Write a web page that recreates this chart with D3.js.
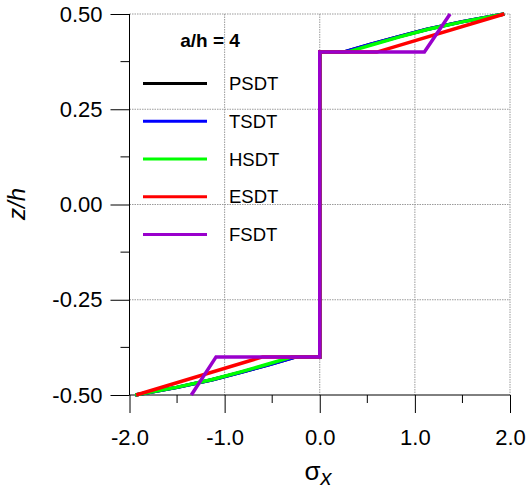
<!DOCTYPE html>
<html>
<head>
<meta charset="utf-8">
<script src="https://cdn.jsdelivr.net/npm/d3@7"></script>
<style>
  html, body { margin: 0; padding: 0; background: #fff; }
  svg { display: block; font-family: "Liberation Sans", Arial, sans-serif; }
</style>
</head>
<body>
<svg id="chart" width="528" height="495"></svg>
<script>
// Through-thickness normal stress sigma_x for a/h = 4
const zCurve = [-0.5, -0.48, -0.46, -0.44, -0.42, -0.4, -0.4, 0.4, 0.4, 0.42, 0.44, 0.46, 0.48, 0.5];
const psdtSigma = [-1.94, -1.50, -1.13, -0.82, -0.53, -0.25, 0, 0, 0.25, 0.53, 0.82, 1.13, 1.50, 1.94];
const tsdtSigma = [-1.94, -1.50, -1.13, -0.82, -0.53, -0.25, 0, 0, 0.25, 0.53, 0.82, 1.13, 1.50, 1.94];
const hsdtSigma = [-1.94, -1.51, -1.14, -0.84, -0.56, -0.29, 0, 0, 0.29, 0.56, 0.84, 1.14, 1.51, 1.94];
const zLinear = [-0.5, -0.4, -0.4, 0.4, 0.4, 0.5];
const esdtSigma = [-1.93, -0.60, 0, 0, 0.60, 1.94];
const fsdtSigma = [-1.35, -1.09, 0, 0, 1.10, 1.37];

const seriesNames = ["PSDT", "TSDT", "HSDT", "ESDT", "FSDT"];
const seriesColors = ["#000000", "#0000ff", "#00ff00", "#ff0000", "#9900cc"];

const xTicks = [-2, -1, 0, 1, 2];
const xMinorTicks = [-1.5, -0.5, 0.5, 1.5];
const yTicks = [-0.5, -0.25, 0, 0.25, 0.5];
const yMinorTicks = [-0.375, -0.125, 0.125, 0.375];

const series = [
  { name: seriesNames[0], sigma: psdtSigma, z: zCurve },
  { name: seriesNames[1], sigma: tsdtSigma, z: zCurve },
  { name: seriesNames[2], sigma: hsdtSigma, z: zCurve },
  { name: seriesNames[3], sigma: esdtSigma, z: zLinear },
  { name: seriesNames[4], sigma: fsdtSigma, z: zLinear }
];

const svg = d3.select("#chart");
const x = d3.scaleLinear().domain([-2, 2]).range([129.5, 510]);
const y = d3.scaleLinear().domain([-0.5, 0.5]).range([395, 14]);

// plain hyphen for negative numbers
const fmt = p => d => d3.format(p)(d).replace("\u2212", "-");

// dotted grid
const grid = svg.append("g").attr("stroke", "#9a9a9a").attr("stroke-width", 1)
  .attr("stroke-dasharray", "1.5,1");
grid.selectAll("line.gx").data(xTicks.filter(d => d > -2)).join("line")
  .attr("x1", d => x(d)).attr("x2", d => x(d))
  .attr("y1", y(0.5)).attr("y2", y(-0.5));
grid.selectAll("line.gy").data(yTicks.filter(d => d > -0.5)).join("line")
  .attr("x1", x(-2)).attr("x2", x(2))
  .attr("y1", d => y(d)).attr("y2", d => y(d));

// axes
const xAxis = d3.axisBottom(x).tickValues(xTicks).tickSize(18).tickPadding(16)
  .tickFormat(fmt(".1f"));
const gx = svg.append("g").attr("transform", `translate(0,${y(-0.5)})`).call(xAxis);
gx.append("g").selectAll("line").data(xMinorTicks).join("line")
  .attr("x1", d => x(d)).attr("x2", d => x(d)).attr("y1", 0).attr("y2", 8)
  .attr("stroke", "#000");

const yAxis = d3.axisLeft(y).tickValues(yTicks).tickSize(19).tickPadding(8)
  .tickFormat(fmt(".2f"));
const gy = svg.append("g").attr("transform", `translate(${x(-2)},0)`).call(yAxis);
gy.append("g").selectAll("line").data(yMinorTicks).join("line")
  .attr("x1", -9).attr("x2", 0).attr("y1", d => y(d)).attr("y2", d => y(d))
  .attr("stroke", "#000");

[gx, gy].forEach(g => {
  g.select(".domain").remove();
  g.selectAll("text").attr("font-size", 22)
    .attr("font-family", "'Liberation Sans', Arial, sans-serif").attr("fill", "#000");
  g.selectAll(".tick line").attr("stroke", "#000");
});
gx.selectAll(".tick text").attr("dy", "0.71em");
// axis lines
svg.append("line").attr("x1", x(-2)).attr("x2", x(2)).attr("y1", y(-0.5)).attr("y2", y(-0.5))
  .attr("stroke", "#000");
svg.append("line").attr("x1", x(-2)).attr("x2", x(-2)).attr("y1", y(0.5)).attr("y2", y(-0.5))
  .attr("stroke", "#000");

// stress curves
const line = d3.line().x(d => x(d[0])).y(d => y(d[1]));
svg.append("g").selectAll("path").data(series).join("path")
  .attr("d", s => line(s.sigma.map((v, i) => [v, s.z[i]])))
  .attr("fill", "none")
  .attr("stroke", (s, i) => seriesColors[i])
  .attr("stroke-width", 3.5)
  .attr("stroke-linejoin", "miter");

// legend
const legend = svg.append("g");
legend.append("text").attr("x", 210).attr("y", 47).attr("text-anchor", "middle")
  .attr("font-size", 19).attr("font-weight", "bold").text("a/h = 4");
const legY = d3.scalePoint().domain(seriesNames).range([83.5, 234.5]);
const items = legend.selectAll("g.item").data(seriesNames).join("g");
items.append("line").attr("x1", 143).attr("x2", 207)
  .attr("y1", d => legY(d)).attr("y2", d => legY(d))
  .attr("stroke", (d, i) => seriesColors[i]).attr("stroke-width", 3);
items.append("text").attr("x", 229).attr("y", d => legY(d)).attr("dy", "0.36em")
  .attr("font-size", 18.5).text(d => d);

// axis titles
svg.append("text").attr("transform", "translate(25,204) rotate(-90)")
  .attr("text-anchor", "middle").attr("font-size", 24).attr("font-style", "italic")
  .text("z/h");
const xt = svg.append("text").attr("x", 318).attr("y", 480).attr("text-anchor", "middle")
  .attr("font-size", 26);
xt.append("tspan").text("σ");
xt.append("tspan").attr("font-size", 22).attr("font-style", "italic").attr("dy", 5).text("x");
</script>
</body>
</html>
